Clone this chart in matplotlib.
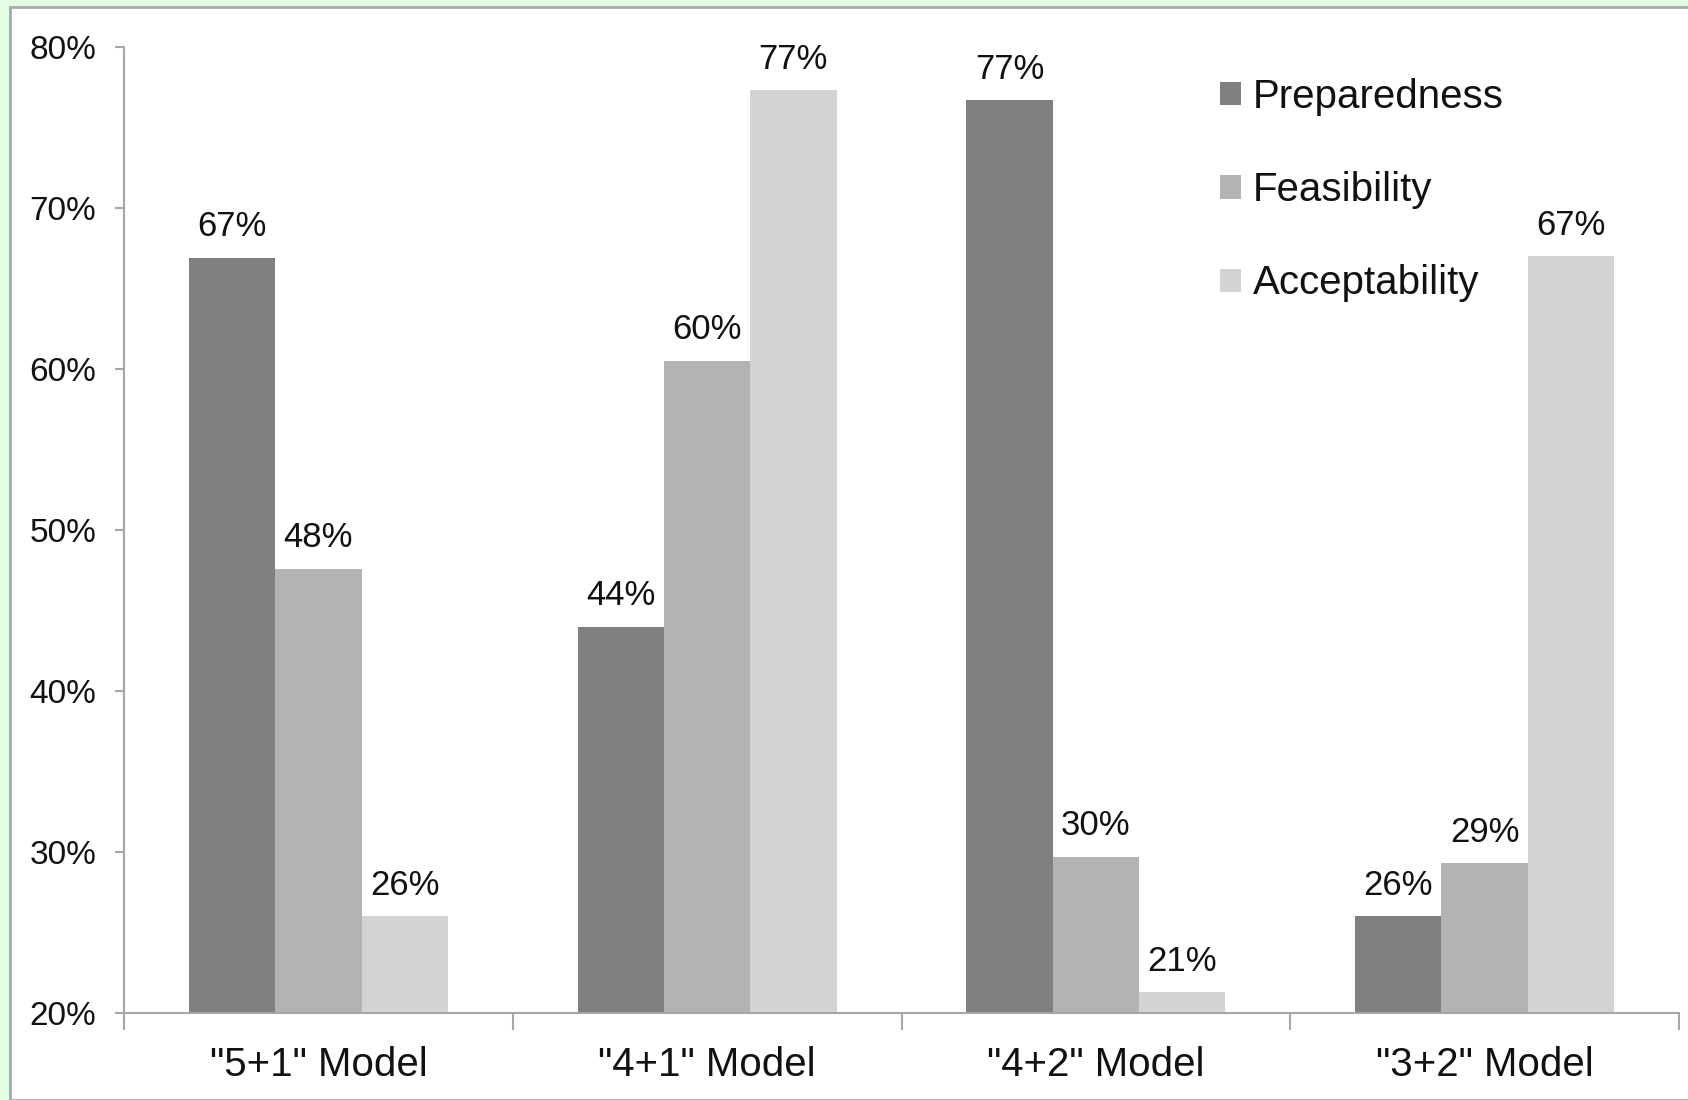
import matplotlib
matplotlib.use("Agg")
import matplotlib.pyplot as plt
from matplotlib.patches import Rectangle, Patch
import numpy as np

plt.rcParams['font.family'] = ['Liberation Sans', 'DejaVu Sans']

categories = ['"5+1" Model', '"4+1" Model', '"4+2" Model', '"3+2" Model']
series_names = ['Preparedness', 'Feasibility', 'Acceptability']
preparedness = [66.9, 44.0, 76.7, 26.0]
feasibility = [47.6, 60.5, 29.7, 29.3]
acceptability = [26.0, 77.3, 21.3, 67.0]
y_ticks = [20, 30, 40, 50, 60, 70, 80]

colors = ['#808080', '#b3b3b3', '#d3d3d3']
axis_gray = '#a6a6a6'

W, H = 1688, 1100
fig = plt.figure(figsize=(W / 100, H / 100), dpi=100)
fig.patch.set_facecolor('#e2fde2')

# white panel with a thin gray frame, behind the axes
panel = Rectangle((10 / W, 0), 1 - 10 / W + 0.01, 1 - 7 / H,
                  transform=fig.transFigure, facecolor='white',
                  edgecolor='#a8a8a8', linewidth=2, zorder=-10)
fig.add_artist(panel)

ax = fig.add_axes([124 / W, 1 - 1013 / H, (1679 - 124) / W, (1013 - 47) / H])
ax.set_facecolor('none')
ax.set_zorder(1)

x = np.arange(len(categories))
bw = 0.222
series = [preparedness, feasibility, acceptability]
for i, (vals, col) in enumerate(zip(series, colors)):
    pos = x + (i - 1) * bw
    ax.bar(pos, np.array(vals) - 20, bottom=20, width=bw, color=col,
           edgecolor='none', zorder=2)
    for p, v in zip(pos, vals):
        ax.text(p, v + 0.9, f'{v:.0f}%', ha='center', va='bottom',
                fontsize=25, color='#111111')

ax.set_xlim(-0.5, len(categories) - 0.5)
ax.set_ylim(20, 80)
ax.set_yticks(y_ticks)
ax.set_yticklabels([f'{t}%' for t in y_ticks], fontsize=24, color='#111111')

# category labels centred, ticks on category boundaries
ax.set_xticks(np.arange(len(categories) + 1) - 0.5)
ax.set_xticklabels([])
ax.set_xticks(x, minor=True)
ax.set_xticklabels(categories, minor=True, fontsize=29, color='#111111')
ax.tick_params(axis='x', which='minor', length=0, pad=24)
ax.tick_params(axis='x', which='major', length=12, width=1.5, color=axis_gray,
               direction='out')
ax.tick_params(axis='y', length=6.5, width=1.5, color=axis_gray, pad=13.5,
               direction='out')

for s in ['top', 'right']:
    ax.spines[s].set_visible(False)
for s in ['left', 'bottom']:
    ax.spines[s].set_color(axis_gray)
    ax.spines[s].set_linewidth(1.5)

handles = [Patch(facecolor=c, edgecolor='none') for c in colors]
leg = fig.legend(handles, series_names, loc='upper left',
                 bbox_to_anchor=(1204 / W, 1 - 62 / H), frameon=False,
                 fontsize=29, handlelength=0.51, handleheight=0.51,
                 handletextpad=0.3, labelspacing=1.37, borderaxespad=0)
leg.set_zorder(3)
for t in leg.get_texts():
    t.set_color('#111111')

fig.savefig('out.png', dpi=100, facecolor=fig.get_facecolor())
